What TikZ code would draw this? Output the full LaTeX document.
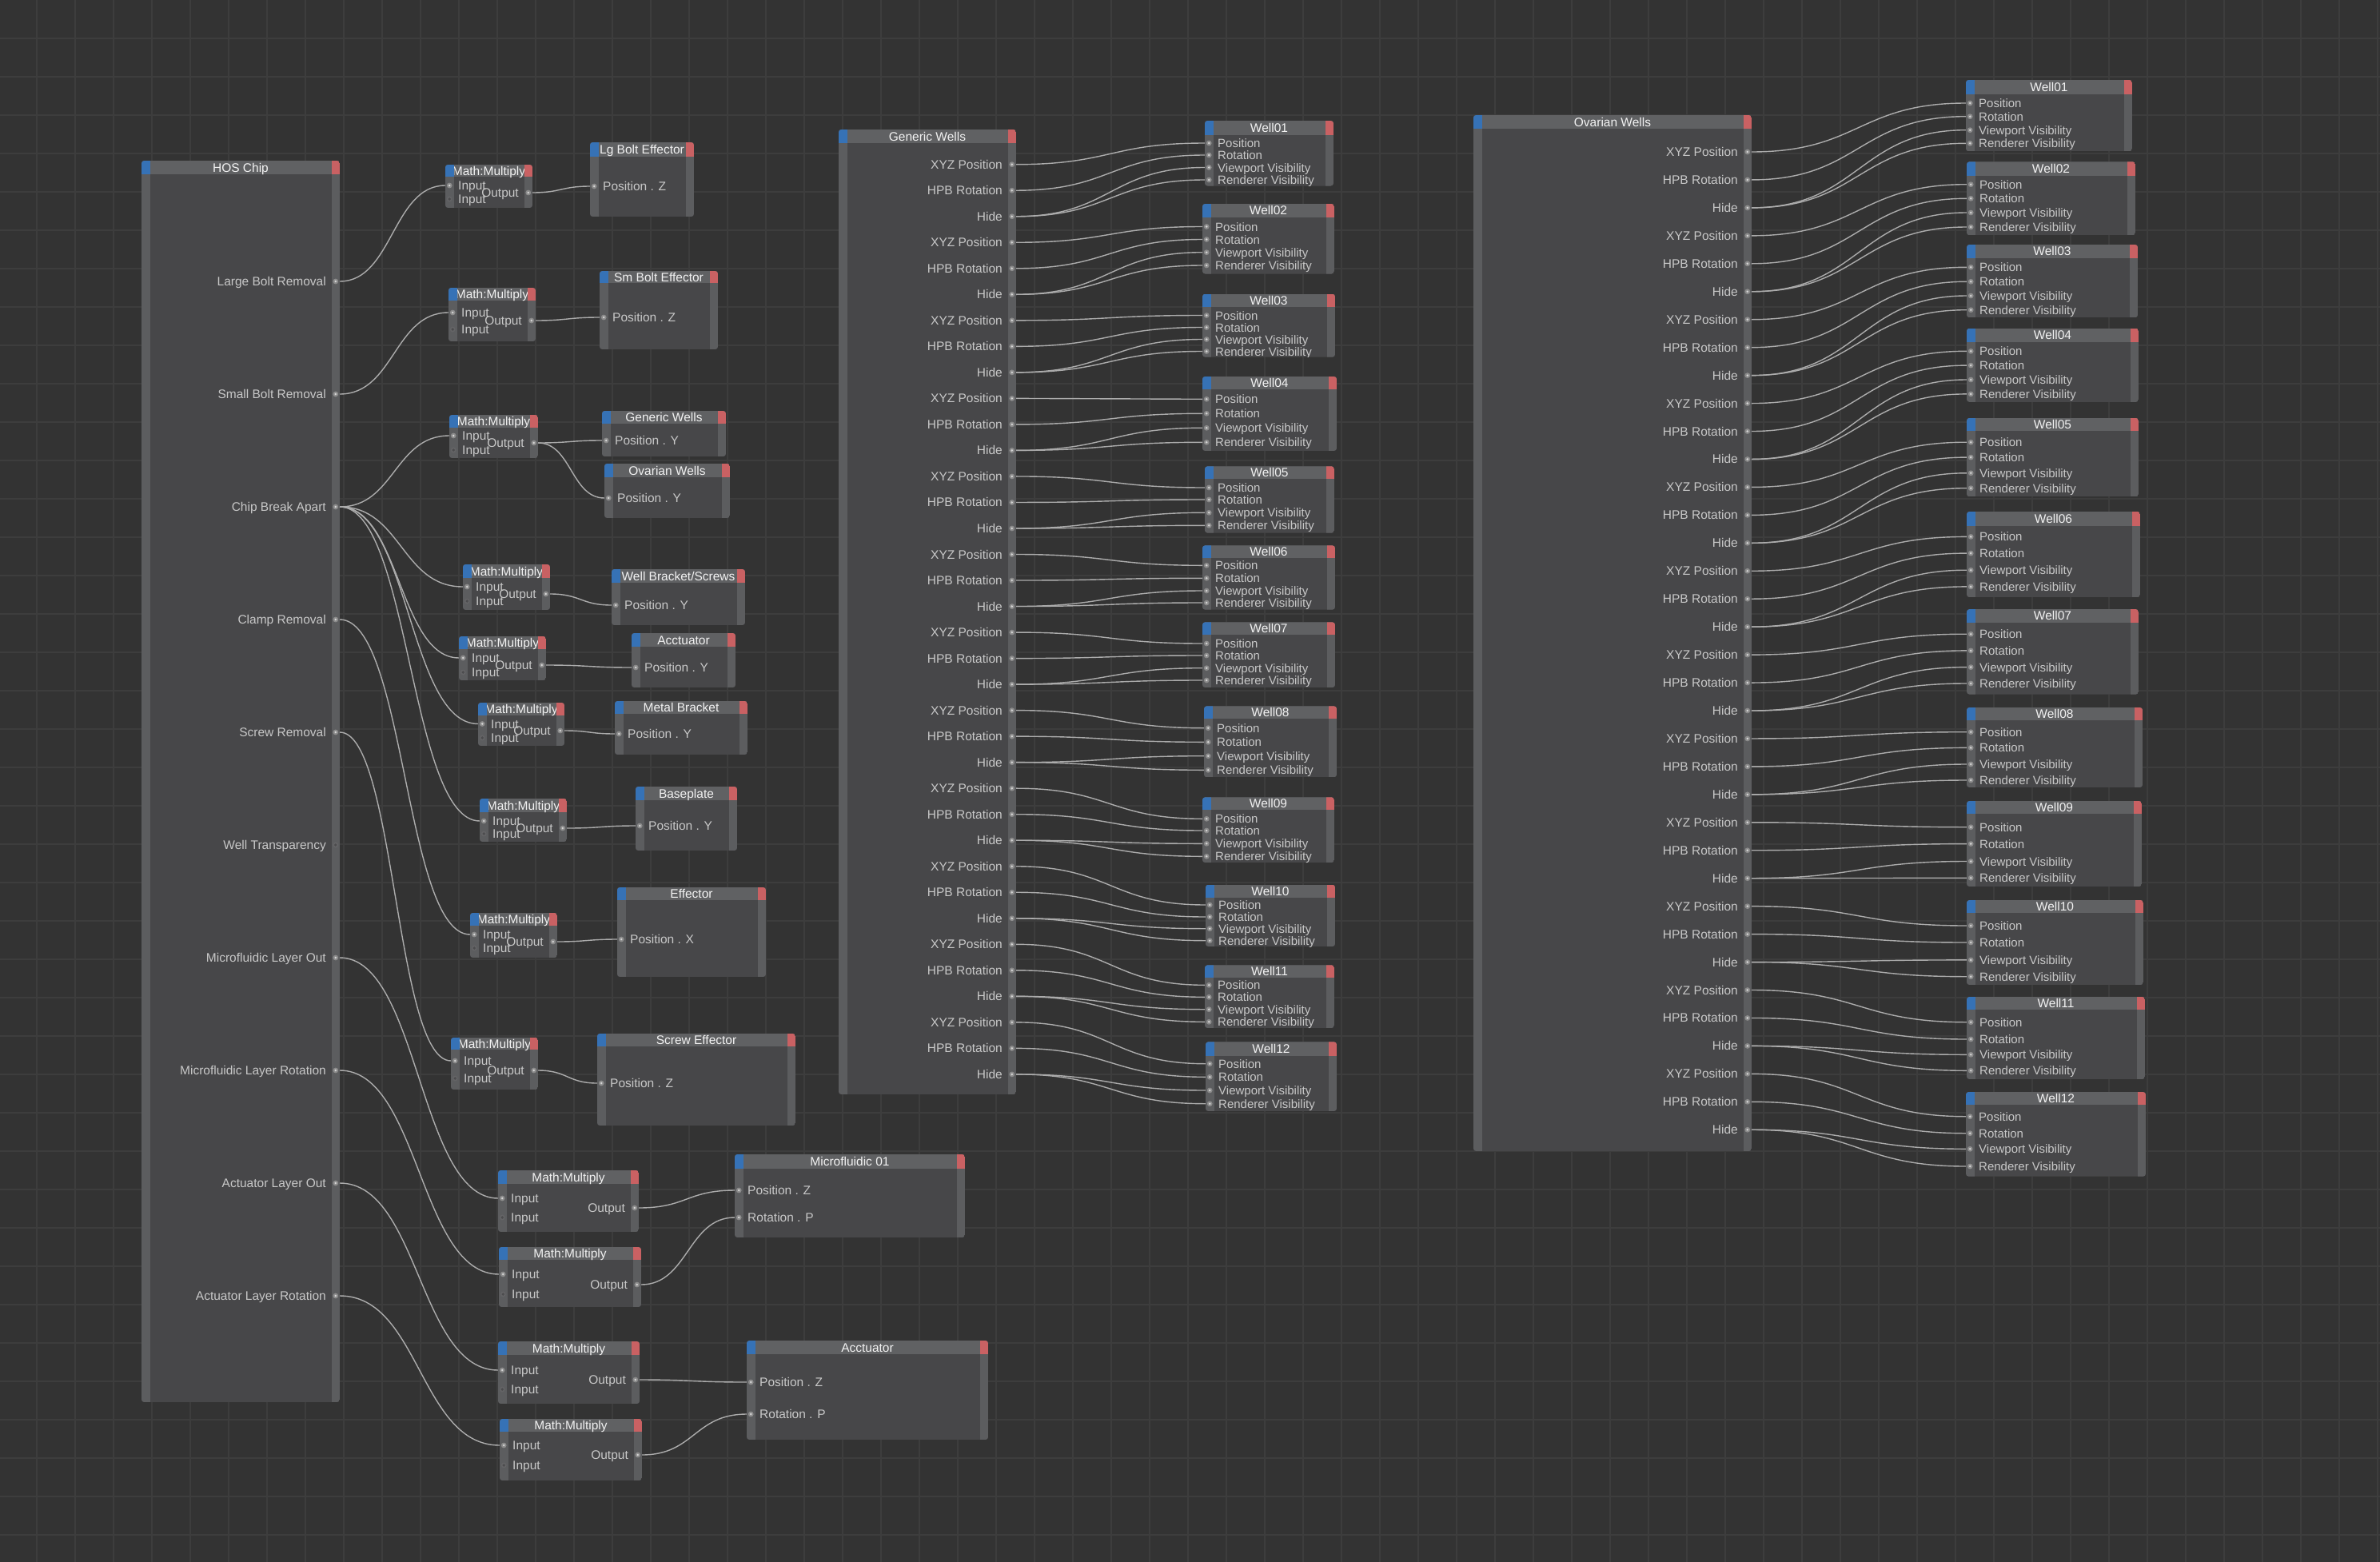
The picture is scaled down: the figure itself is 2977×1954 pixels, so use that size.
\documentclass[tikz,border=0pt]{standalone}
\usepackage{fontspec}
\setmainfont{Liberation Sans}
\usetikzlibrary{calc}
\definecolor{bgc}{RGB}{51,51,51}
\definecolor{gridc}{RGB}{61,61,61}
\definecolor{bodyc}{RGB}{71,71,73}
\definecolor{stripc}{RGB}{92,93,95}
\definecolor{hdrc}{RGB}{96,97,99}
\definecolor{bluec}{RGB}{54,114,182}
\definecolor{redc}{RGB}{201,97,99}
\definecolor{wirec}{RGB}{172,172,172}
\definecolor{lblc}{RGB}{200,200,200}
\definecolor{ttlc}{RGB}{242,242,242}
\definecolor{pfillc}{RGB}{140,140,140}
\definecolor{pdotc}{RGB}{215,215,215}
\definecolor{punc}{RGB}{100,100,102}
\definecolor{puninc}{RGB}{76,76,78}
\newcommand\lblfont{\fontsize{15.5}{18}\selectfont}
\newcommand\wellfont{\fontsize{15}{18}\selectfont}
\newcommand\pfont{\lblfont}
\tikzset{
  lbl/.style={text=lblc, inner sep=0pt, font=\pfont},
  ttl/.style={text=ttlc, inner sep=0pt, font=\lblfont},
  wire/.style={draw=wirec, line width=1.4pt},
  gridline/.style={draw=gridc, line width=2pt},
}
\newcommand{\nodebeg}[7]{%
  \begin{scope}
  \pgfmathsetmacro\myL{#2}\pgfmathsetmacro\myT{#3}\pgfmathsetmacro\myR{#4}%
  \pgfmathsetmacro\myB{#5}\pgfmathsetmacro\myH{#6}%
  \pgfmathsetmacro\myLa{#2+10.5}\pgfmathsetmacro\myRa{#4-10.5}%
  \path (#2,#3) coordinate (#1-nw) (#4,#5) coordinate (#1-se);
  \clip[rounded corners=3.5pt] (#2,#3) rectangle (#4,#5);
  \fill[bodyc] (#2,#3) rectangle (#4,#5);
  \fill[hdrc] (#2,#3) rectangle (#4,#6);
  \fill[stripc] (#2,#6) rectangle (\myLa,#5);
  \fill[stripc] (\myRa,#6) rectangle (#4,#5);
  \pgfmathsetmacro\myCx{(#2+#4)/2}\pgfmathsetmacro\myCy{(#3+#6)/2+5.6}%
  \node[ttl, anchor=base] (#1) at (\myCx,\myCy) {#7};
}
\newcommand{\nodeend}{%
  \fill[bluec] (\myL,\myT) rectangle (\myLa,\myH);
  \fill[redc] (\myRa,\myT) rectangle (\myR,\myH);
  \end{scope}}
\newcommand{\portdot}[3]{%
  \ifx c#3
    \fill[pfillc] (#1,#2) circle[radius=3.4pt];
    \fill[pdotc] (#1,#2) circle[radius=1.4pt];
  \else
    \fill[punc] (#1,#2) circle[radius=3.4pt];
    \fill[puninc] (#1,#2) circle[radius=1.9pt];
  \fi}
\newcommand{\pin}[4]{%
  \pgfmathsetmacro\myPy{#2+5.5}\pgfmathsetmacro\myPd{\myL+5.2}\pgfmathsetmacro\myPl{\myL+16}%
  \coordinate (#1) at (\myL,#2);
  \portdot{\myPd}{#2}{#4}%
  \node[lbl, anchor=base west] (#1-l) at (\myPl,\myPy) {#3};}
\newcommand{\pout}[4]{%
  \pgfmathsetmacro\myPy{#2+5.5}\pgfmathsetmacro\myPd{\myR-5.2}\pgfmathsetmacro\myPl{\myR-17}%
  \coordinate (#1) at (\myR,#2);
  \portdot{\myPd}{#2}{#4}%
  \node[lbl, anchor=base east] (#1-l) at (\myPl,\myPy) {#3};}
\newcommand{\mm}[9]{%
  \nodebeg{#1}{#2}{#3}{#4}{#5}{#6}{Math:Multiply}%
  \pin{#1-i1}{#7}{Input}{c}%
  \pin{#1-i2}{#8}{Input}{u}%
  \pout{#1-o}{#9}{Output}{c}%
  \nodeend}
\newcommand{\tnode}[9]{%
  \nodebeg{#1}{#2}{#3}{#4}{#5}{#6}{#7}%
  \pin{#1-i}{#8}{#9}{c}%
  \nodeend}
\newcommand{\wellrows}[5]{%
  \renewcommand\pfont{\wellfont}%
  \pin{#1-1}{#2}{Position}{c}%
  \pin{#1-2}{#3}{Rotation}{c}%
  \pin{#1-3}{#4}{Viewport Visibility}{c}%
  \pin{#1-4}{#5}{Renderer Visibility}{c}}
\newcommand{\wire}[2]{\draw[wire] let \p1=(#1), \p2=(#2), \n1={0.5*(\x2-\x1)} in (\p1) .. controls +(\n1,0) and +(-\n1,0) .. (\p2);}

\begin{document}
\begin{tikzpicture}[x=1pt,y=-1pt]
\useasboundingbox (0,0) rectangle (2977,1954);
\fill[bgc] (0,0) rectangle (2977,1954);
\foreach \gx in {46,94,...,2974} \draw[gridline] (\gx,0) -- (\gx,1954);
\foreach \gy in {48,96,...,1920} \draw[gridline] (0,\gy) -- (2977,\gy);

% HOS Chip
\nodebeg{hos}{177}{201}{425}{1754}{218}{HOS Chip}
\pout{hos-1}{352}{Large Bolt Removal}{c}
\pout{hos-2}{493}{Small Bolt Removal}{c}
\pout{hos-3}{634}{Chip Break Apart}{c}
\pout{hos-4}{775}{Clamp Removal}{c}
\pout{hos-5}{916}{Screw Removal}{c}
\pout{hos-6}{1057}{Well Transparency}{u}
\pout{hos-7}{1198}{Microfluidic Layer Out}{c}
\pout{hos-8}{1339}{Microfluidic Layer Rotation}{c}
\pout{hos-9}{1480}{Actuator Layer Out}{c}
\pout{hos-10}{1621}{Actuator Layer Rotation}{c}
\nodeend

% Math multiply nodes
\mm{mm1}{557}{206}{666}{260}{221}{232}{249}{241}
\mm{mm2}{561}{360}{670}{427}{376}{391}{412}{401}
\mm{mm3}{562}{519}{673}{573}{535}{545}{563}{554}
\mm{mm4}{579}{706}{688}{763}{723}{734}{752}{743}
\mm{mm5}{574}{796}{683}{851}{812}{823}{841}{832}
\mm{mm6}{598}{879}{706}{933}{895}{905.5}{923}{914}
\mm{mm7}{600}{999}{709}{1053}{1016}{1027}{1043}{1036}
\mm{mm8}{588}{1142}{697}{1198}{1158}{1169}{1186}{1178}
\mm{mm9}{564}{1298}{673}{1363}{1313}{1327}{1349}{1339}
\mm{mm10}{623}{1464}{799}{1541}{1481}{1499}{1523}{1511}
\mm{mm11}{624}{1560}{802}{1635}{1576}{1594}{1619}{1607}
\mm{mm12}{623}{1678}{800}{1756}{1695}{1714}{1738}{1726}
\mm{mm13}{625}{1775}{803}{1852}{1791}{1808}{1833}{1820}

% target nodes
\tnode{lgb}{738}{178}{868}{271}{196}{Lg Bolt Effector}{233}{Position . Z}
\tnode{smb}{750}{339}{898}{437}{354}{Sm Bolt Effector}{397}{Position . Z}
\tnode{gws}{753}{514}{908}{571}{530}{Generic Wells}{551}{Position . Y}
\tnode{ows}{756}{580}{913}{648}{597}{Ovarian Wells}{623}{Position . Y}
\tnode{wbs}{765}{712}{932}{782}{729}{Well Bracket/Screws}{757}{Position . Y}
\tnode{acs}{790}{792}{920}{860}{809}{Acctuator}{835}{Position . Y}
\tnode{mtb}{769}{877}{935}{944}{893}{Metal Bracket}{918}{Position . Y}
\tnode{bsp}{795}{984}{922}{1064}{1001}{Baseplate}{1033}{Position . Y}
\tnode{eff}{772}{1110}{958}{1222}{1126}{Effector}{1175}{Position . X}
\tnode{scr}{747}{1293}{995}{1408}{1309}{Screw Effector}{1355}{Position . Z}
\nodebeg{mic}{919}{1444}{1207}{1548}{1462}{Microfluidic 01}
\pin{mic-a}{1489}{Position . Z}{c}
\pin{mic-b}{1523}{Rotation . P}{c}
\nodeend
\nodebeg{act}{934}{1677}{1236}{1801}{1694}{Acctuator}
\pin{act-a}{1729}{Position . Z}{c}
\pin{act-b}{1769}{Rotation . P}{c}
\nodeend

% Generic Wells
\nodebeg{gw}{1049}{162}{1271}{1369}{179}{Generic Wells}
\foreach \k in {1,...,12}{
  \pgfmathsetmacro\myYa{205.7+97.56*(\k-1)}
  \pgfmathsetmacro\myYb{\myYa+32.52}
  \pgfmathsetmacro\myYc{\myYa+65.04}
  \pout{gw-\k-a}{\myYa}{XYZ Position}{c}
  \pout{gw-\k-b}{\myYb}{HPB Rotation}{c}
  \pout{gw-\k-c}{\myYc}{Hide}{c}
}
\nodeend

\nodebeg{g1}{1507}{151}{1668}{232.5}{169}{Well01}\wellrows{g1}{179}{194}{209.5}{225}\nodeend
\nodebeg{g2}{1504}{255}{1669}{342.5}{271.5}{Well02}\wellrows{g2}{283.5}{299.5}{315.7}{332}\nodeend
\nodebeg{g3}{1504}{367.7}{1670}{446.7}{384.3}{Well03}\wellrows{g3}{394.5}{409.5}{424.5}{439.5}\nodeend
\nodebeg{g4}{1504}{471}{1672}{564}{486.7}{Well04}\wellrows{g4}{499.3}{517.3}{535.3}{553.3}\nodeend
\nodebeg{g5}{1507}{583.3}{1669}{666.7}{599}{Well05}\wellrows{g5}{610}{625}{641.3}{657.3}\nodeend
\nodebeg{g6}{1504}{682.3}{1670}{762.7}{697.7}{Well06}\wellrows{g6}{707.3}{723.3}{739}{754}\nodeend
\nodebeg{g7}{1504}{778.3}{1670}{860}{794}{Well07}\wellrows{g7}{805}{820}{835.7}{851}\nodeend
\nodebeg{g8}{1506}{883.3}{1672}{972.3}{899}{Well08}\wellrows{g8}{910.7}{928.3}{945.7}{963.3}\nodeend
\nodebeg{g9}{1504}{997.3}{1669}{1079}{1012.7}{Well09}\wellrows{g9}{1024.3}{1039}{1055.3}{1071.3}\nodeend
\nodebeg{g10}{1508}{1106.7}{1670}{1184}{1123.3}{Well10}\wellrows{g10}{1132}{1147}{1161.7}{1176.7}\nodeend
\nodebeg{g11}{1507}{1207.3}{1669}{1286}{1222.7}{Well11}\wellrows{g11}{1232.3}{1247.3}{1262.7}{1278.3}\nodeend
\nodebeg{g12}{1508}{1303.3}{1672}{1390}{1320.7}{Well12}\wellrows{g12}{1330.7}{1347.3}{1364}{1380.7}\nodeend

% Ovarian Wells
\nodebeg{ow}{1843}{144}{2191}{1440}{161}{Ovarian Wells}
\foreach \k in {1,...,12}{
  \pgfmathsetmacro\myYa{190+104.85*(\k-1)}
  \pgfmathsetmacro\myYb{\myYa+34.95}
  \pgfmathsetmacro\myYc{\myYa+69.9}
  \pout{ow-\k-a}{\myYa}{XYZ Position}{c}
  \pout{ow-\k-b}{\myYb}{HPB Rotation}{c}
  \pout{ow-\k-c}{\myYc}{Hide}{c}
}
\nodeend

\nodebeg{o1}{2459}{100}{2667}{189.3}{117.7}{Well01}\wellrows{o1}{129}{145.7}{162.7}{179.3}\nodeend
\nodebeg{o2}{2460}{202.3}{2671}{294.3}{220}{Well02}\wellrows{o2}{230.7}{248.3}{266}{284}\nodeend
\nodebeg{o3}{2460}{306}{2674}{397.3}{322.7}{Well03}\wellrows{o3}{334.3}{352.3}{370}{387.7}\nodeend
\nodebeg{o4}{2460}{410.7}{2675}{502.9}{427.9}{Well04}\wellrows{o4}{439.3}{457.1}{475}{492.9}\nodeend
\nodebeg{o5}{2460}{522.9}{2675}{621.4}{539.3}{Well05}\wellrows{o5}{553.2}{572.1}{591.8}{610.7}\nodeend
\nodebeg{o6}{2460}{640}{2677}{747.1}{657.9}{Well06}\wellrows{o6}{671.4}{692.1}{713.2}{733.9}\nodeend
\nodebeg{o7}{2460}{762.1}{2675}{868.6}{778.6}{Well07}\wellrows{o7}{793.2}{813.9}{834.6}{855}\nodeend
\nodebeg{o8}{2460}{885}{2680}{985}{900.7}{Well08}\wellrows{o8}{915.7}{935.4}{956}{976}\nodeend
\nodebeg{o9}{2460}{1002}{2679}{1109}{1018}{Well09}\wellrows{o9}{1034.7}{1055.6}{1077.5}{1098.3}\nodeend
\nodebeg{o10}{2460}{1126}{2681}{1232}{1142}{Well10}\wellrows{o10}{1158}{1179}{1200.9}{1221.7}\nodeend
\nodebeg{o11}{2460}{1247}{2683}{1350}{1263}{Well11}\wellrows{o11}{1278.7}{1300}{1319.3}{1339.3}\nodeend
\nodebeg{o12}{2459}{1366}{2684}{1471.7}{1381.7}{Well12}\wellrows{o12}{1396.7}{1417.7}{1437.3}{1459}\nodeend

% wires
\wire{hos-1}{mm1-i1}
\wire{hos-2}{mm2-i1}
\foreach \m in {3,...,7}{\wire{hos-3}{mm\m-i1}}
\wire{hos-4}{mm8-i1}
\wire{hos-5}{mm9-i1}
\wire{hos-7}{mm10-i1}
\wire{hos-8}{mm11-i1}
\wire{hos-9}{mm12-i1}
\wire{hos-10}{mm13-i1}
\wire{mm1-o}{lgb-i}
\wire{mm2-o}{smb-i}
\wire{mm3-o}{gws-i}
\wire{mm3-o}{ows-i}
\wire{mm4-o}{wbs-i}
\wire{mm5-o}{acs-i}
\wire{mm6-o}{mtb-i}
\wire{mm7-o}{bsp-i}
\wire{mm8-o}{eff-i}
\wire{mm9-o}{scr-i}
\wire{mm10-o}{mic-a}
\wire{mm11-o}{mic-b}
\wire{mm12-o}{act-a}
\wire{mm13-o}{act-b}
\foreach \k in {1,...,12}{
  \wire{gw-\k-a}{g\k-1}
  \wire{gw-\k-b}{g\k-2}
  \wire{gw-\k-c}{g\k-3}
  \wire{gw-\k-c}{g\k-4}
  \wire{ow-\k-a}{o\k-1}
  \wire{ow-\k-b}{o\k-2}
  \wire{ow-\k-c}{o\k-3}
  \wire{ow-\k-c}{o\k-4}
}
\end{tikzpicture}
\end{document}
